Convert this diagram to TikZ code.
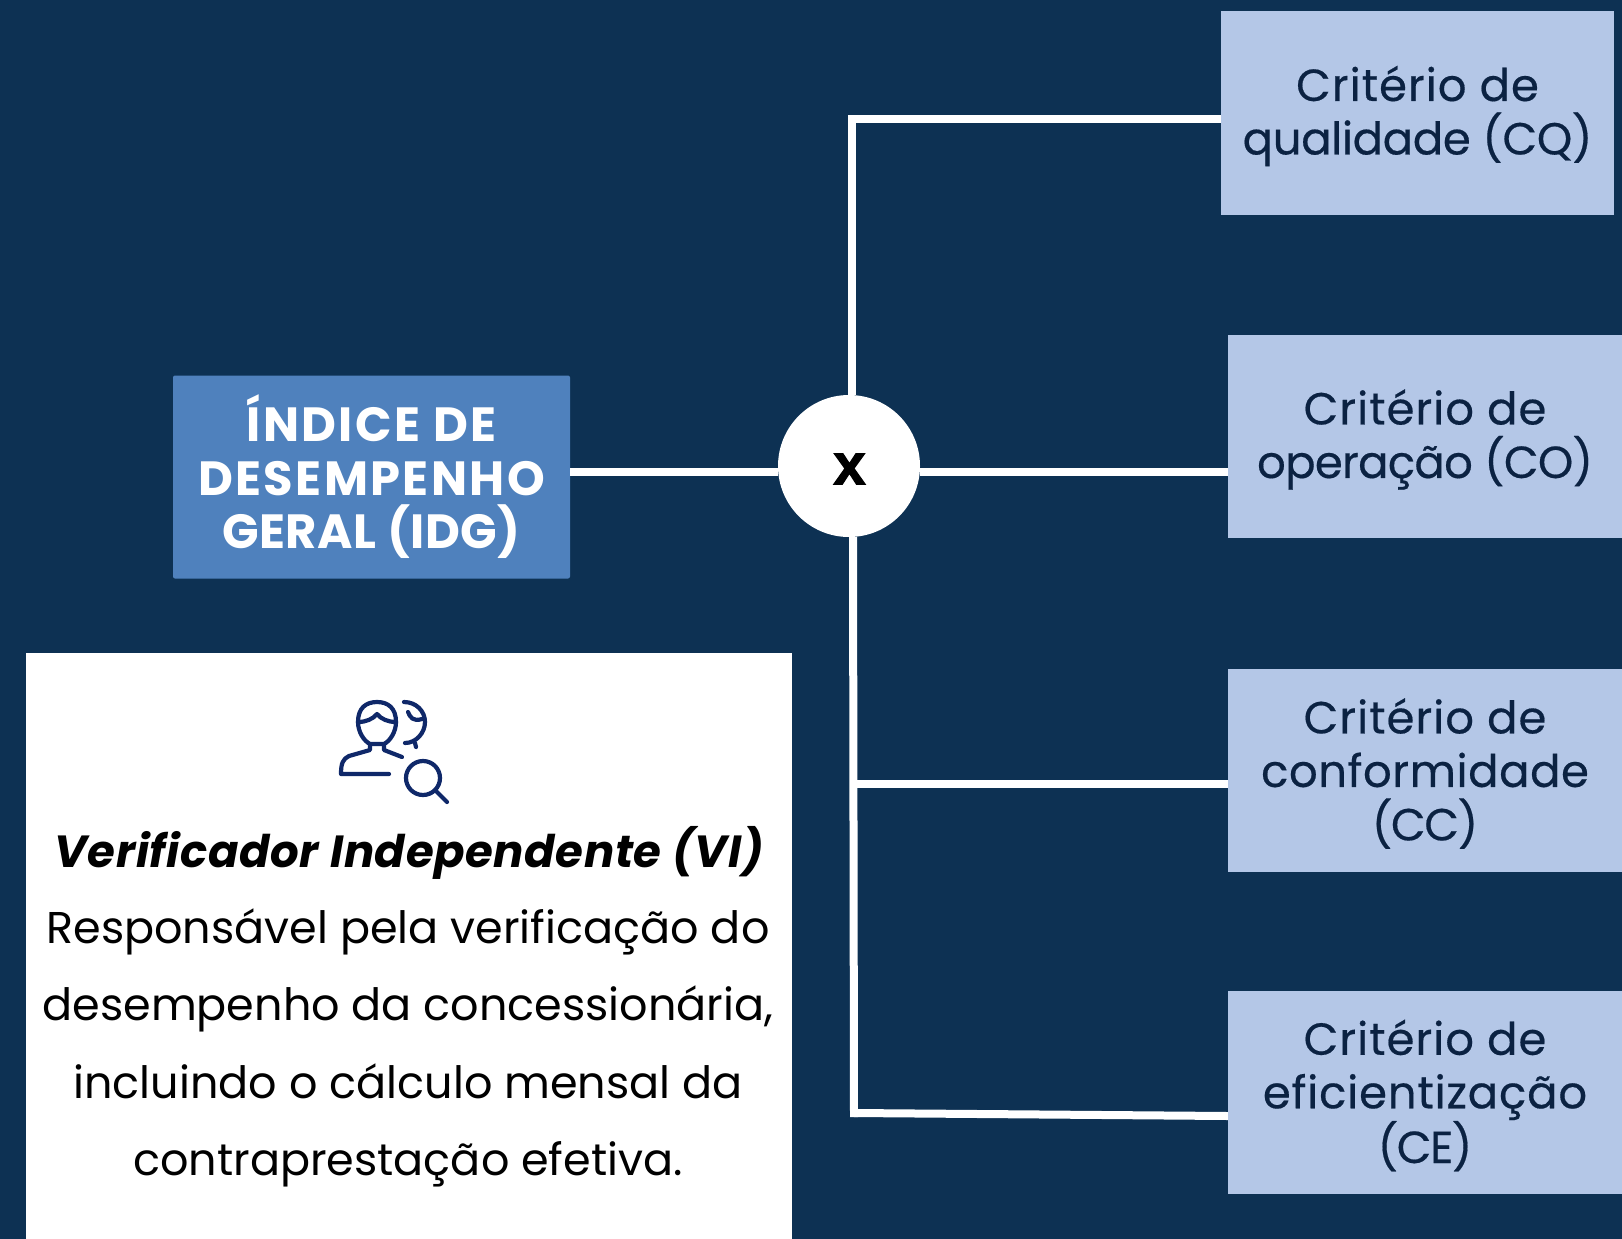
\documentclass[tikz,border=0pt]{standalone}
\usetikzlibrary{calc}
\usepackage{fontspec}
\setmainfont{Poppins}
\newfontfamily\xfont[BoldFeatures={FakeBold=2}]{Liberation Sans}
\definecolor{bgnavy}{RGB}{13,49,83}
\definecolor{critbox}{RGB}{180,199,231}
\definecolor{idgbox}{RGB}{79,129,189}
\definecolor{crittext}{RGB}{11,34,66}
\definecolor{iconblue}{RGB}{15,40,105}
\newcommand{\fs}[2]{\fontsize{#1pt}{#2pt}\selectfont}
\newcommand{\ls}[2]{{\addfontfeature{LetterSpace=#1}#2}}
\tikzset{
  crit/.style={fill=critbox,minimum width=394pt,minimum height=203pt,inner sep=0pt},
  crittxt/.style={text=crittext,inner sep=0pt,align=center,font=\fs{45}{53.5}\addfontfeature{FakeBold=0.4}},
  conn/.style={draw=white,line width=8pt},
  para/.style={text=black,inner sep=0pt,text height=34pt,text depth=12pt,font=\fs{44.5}{53}},
  iconline/.style={draw=iconblue,line width=4.2pt,line cap=round,line join=round}
}
\begin{document}
\begin{tikzpicture}[x=1pt,y=-1pt]
\useasboundingbox (0,0) rectangle (1622,1239);
\fill[bgnavy] (0,0) rectangle (1622,1239);
% boxes
\node[crit,minimum width=393pt] (cq) at (1417.5,113) {};
\node[crittxt] (cqt) at ($(cq)+(0,3)$) {\ls{2.2}{Critério de}\\\ls{-0.8}{qualidade (CQ)}};
\node[crit] (co) at (1425,436.5) {};
\node[crittxt] (cot) at ($(co)+(0,3)$) {\ls{2.2}{Critério de}\\\ls{-1.6}{operação (CO)}};
\node[crit] (cc) at (1425,770.5) {};
\node[crittxt] (cct) at ($(cc)+(0,3)$) {\ls{2.2}{Critério de}\\\ls{1.2}{conformidade}\\\ls{-3}{(CC)}};
\node[crit] (ce) at (1425,1092.5) {};
\node[crittxt] (cet) at ($(ce)+(0,3)$) {\ls{2.2}{Critério de}\\\ls{1.8}{eficientização}\\\ls{-3}{(CE)}};
\node[fill=idgbox,text=white,rounded corners=2pt,minimum width=397pt,minimum height=203pt,inner sep=0pt,align=center,font=\fs{48}{53.5}\bfseries] (idg) at (371.5,477) {\ls{5}{ÍNDICE DE}\\\ls{5}{DESEMPENHO}\\\ls{1}{GERAL (IDG)}};
\node[circle,fill=white,minimum size=142pt,inner sep=0pt] (op) at (849,466) {};
\node[font=\fs{58}{58}\xfont\bfseries,text=black,inner sep=0pt] (opx) at (849.5,469) {x};
% junction points
\coordinate (jm) at (853,472);
\coordinate (jt) at (852,119);
\coordinate (jl) at (848,119);
\coordinate (jc) at (854,784);
\coordinate (jb) at (854,1113);
\coordinate (jv) at (854,1117);
% connectors
\draw[conn] (idg.east |- jm) -- (op.west |- jm);
\draw[conn] (op.east |- jm) -- (co.west |- jm);
\draw[conn] (op.north -| jt) -- (jt);
\draw[conn] (jl) -- (cq.west |- jt);
\draw[conn] (op.south -| jm) -- (jv);
\draw[conn] (jc) -- (cc.west |- jc);
\draw[conn] (jb) -- ($(ce.west |- jb)+(0,3)$);
% white panel
\node[fill=white,anchor=north west,minimum width=766pt,minimum height=586pt,inner sep=0pt] (panel) at (26,653) {};
% icon
\begin{scope}[iconline]
  \draw (358,722) .. controls (358,708) and (366,702) .. (377,702) .. controls (388,702) and (396,708) .. (396,722) .. controls (396,732) and (390,741) .. (384,744) -- (370,744) .. controls (364,741) and (358,732) .. (358,722);
  \draw (358,722) .. controls (366,722) and (373,719) .. (377,714) .. controls (381,719) and (388,722) .. (396,722);
  \draw (370,744) -- (370,750) -- (349,756) .. controls (343,759) and (341,763) .. (341,774) -- (389,774);
  \draw (384,744) -- (384,750) -- (402,757);
  \draw (404,702) .. controls (416,702) and (425,711) .. (425,722) .. controls (425,733) and (416,743) .. (405,743);
  \draw (408,712) .. controls (410,717) and (413,722) .. (422,719);
  \draw (415,743) -- (416,747);
  \draw (423,778) circle[radius=17];
  \draw (435,790) -- (447,802);
\end{scope}
% panel text
\node[font=\fs{45}{53}\bfseries\itshape,text=black,inner sep=0pt] (vi) at (409,853) {\ls{1.3}{Verificador Independente (VI)}};
\node[para] (l1) at (408,932) {Responsável pela verificação do};
\node[para] (l2) at (408,1009.5) {desempenho da concessionária,};
\node[para] (l3) at (408,1087) {incluindo o cálculo mensal da};
\node[para] (l4) at (408,1164.5) {contraprestação efetiva.};
\end{tikzpicture}
\end{document}
